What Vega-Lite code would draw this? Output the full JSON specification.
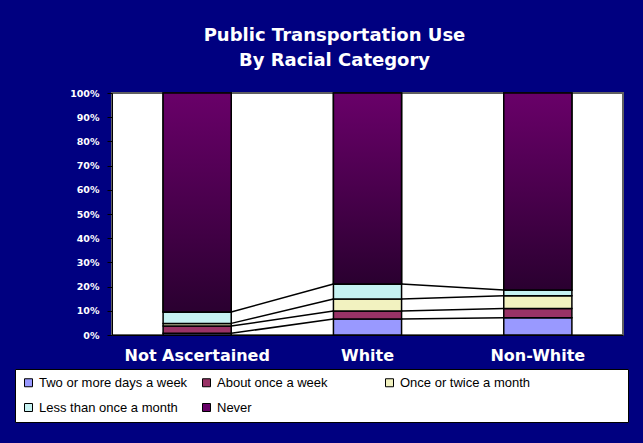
{
  "$schema": "https://vega.github.io/schema/vega-lite/v6.json",
  "width": 511,
  "height": 242,
  "autosize": "none",
  "padding": {"left": 112, "top": 93, "right": 20, "bottom": 108},
  "background": "#000080",
  "title": {
    "text": ["Public Transportation Use", "By Racial Category"],
    "color": "white",
    "font": "DejaVu Sans",
    "fontSize": 18,
    "fontWeight": "bold",
    "lineHeight": 25,
    "anchor": "middle",
    "dx": -33,
    "offset": 18
  },
  "data": {
    "values": [
      {"group": "Not Ascertained", "usage": "Two or more days a week", "pct": 0.7},
      {"group": "Not Ascertained", "usage": "About once a week", "pct": 3.0},
      {"group": "Not Ascertained", "usage": "Once or twice a month", "pct": 1.1},
      {"group": "Not Ascertained", "usage": "Less than once a month", "pct": 4.7},
      {"group": "Not Ascertained", "usage": "Never", "pct": 90.5},
      {"group": "White", "usage": "Two or more days a week", "pct": 6.6},
      {"group": "White", "usage": "About once a week", "pct": 3.3},
      {"group": "White", "usage": "Once or twice a month", "pct": 5.0},
      {"group": "White", "usage": "Less than once a month", "pct": 6.2},
      {"group": "White", "usage": "Never", "pct": 78.9},
      {"group": "Non-White", "usage": "Two or more days a week", "pct": 7.1},
      {"group": "Non-White", "usage": "About once a week", "pct": 3.9},
      {"group": "Non-White", "usage": "Once or twice a month", "pct": 5.2},
      {"group": "Non-White", "usage": "Less than once a month", "pct": 2.4},
      {"group": "Non-White", "usage": "Never", "pct": 81.4}
    ]
  },
  "transform": [
    {"calculate": "indexof(['Two or more days a week','About once a week','Once or twice a month','Less than once a month','Never'], datum.usage)", "as": "si"},
    {"calculate": "indexof(['Not Ascertained','White','Non-White'], datum.group)", "as": "gi"}
  ],
  "encoding": {
    "x": {
      "field": "group",
      "type": "nominal",
      "sort": ["Not Ascertained", "White", "Non-White"],
      "scale": {"paddingInner": 0.6, "paddingOuter": 0.3},
      "axis": {
        "title": null,
        "labelAngle": 0,
        "labelColor": "white",
        "labelFont": "DejaVu Sans",
        "labelFontSize": 16,
        "labelFontWeight": "bold",
        "labelPadding": 12,
        "ticks": false,
        "domainColor": "black"
      }
    }
  },
  "layer": [
    {
      "transform": [
        {"window": [{"op": "sum", "field": "pct", "as": "cum"}], "groupby": ["group"], "sort": [{"field": "si"}], "frame": [null, 0]},
        {"window": [{"op": "lead", "field": "cum", "as": "nextCum"}, {"op": "lead", "field": "group", "as": "nextGroup"}], "groupby": ["usage"], "sort": [{"field": "gi"}], "frame": [null, null]},
        {"filter": "datum.nextGroup != null && datum.usage != 'Never'"}
      ],
      "mark": {"type": "rule", "color": "black", "strokeWidth": 1.5},
      "encoding": {
        "x": {"field": "group", "type": "nominal", "bandPosition": 1, "sort": ["Not Ascertained", "White", "Non-White"]},
        "x2": {"field": "nextGroup", "bandPosition": 0},
        "y": {
          "field": "cum",
          "type": "quantitative",
          "scale": {"domain": [0, 100], "nice": false},
          "axis": {
            "title": null,
            "values": [0, 10, 20, 30, 40, 50, 60, 70, 80, 90, 100],
            "labelExpr": "datum.value + '%'",
            "labelOverlap": false,
            "labelColor": "white",
            "labelFont": "DejaVu Sans",
            "labelFontSize": 9.5,
            "labelFontWeight": "bold",
            "labelPadding": 8,
            "tickColor": "black",
            "tickSize": 5,
            "grid": false,
            "domainColor": "black"
          }
        },
        "y2": {"field": "nextCum"}
      }
    },
    {
      "mark": {"type": "bar", "stroke": "black", "strokeWidth": 1.5},
      "encoding": {
        "y": {
          "field": "pct",
          "type": "quantitative",
          "stack": true,
          "scale": {"domain": [0, 100], "nice": false},
          "axis": {
            "title": null,
            "values": [0, 10, 20, 30, 40, 50, 60, 70, 80, 90, 100],
            "labelExpr": "datum.value + '%'",
            "labelOverlap": false,
            "labelColor": "white",
            "labelFont": "DejaVu Sans",
            "labelFontSize": 9.5,
            "labelFontWeight": "bold",
            "labelPadding": 8,
            "tickColor": "black",
            "tickSize": 5,
            "grid": false,
            "domainColor": "black"
          }
        },
        "order": {"field": "si", "type": "quantitative"},
        "color": {
          "field": "usage",
          "type": "nominal",
          "scale": {
            "domain": ["Two or more days a week", "About once a week", "Once or twice a month", "Less than once a month", "Never"],
            "range": ["#9999ff", "#993366", "#f2f2c0", "#c6f2f2", "#660066"]
          },
          "legend": {
            "title": null,
            "orient": "none",
            "legendX": -97,
            "legendY": 276,
            "direction": "horizontal",
            "columns": 3,
            "gridAlign": "each",
            "columnPadding": 12,
            "rowPadding": 11,
            "padding": 7,
            "fillColor": "white",
            "strokeColor": "black",
            "symbolType": "square",
            "symbolSize": 64,
            "symbolStrokeColor": "black",
            "symbolStrokeWidth": 1,
            "symbolOpacity": 1,
            "labelColor": "black",
            "labelFont": "Liberation Sans",
            "labelFontSize": 13,
            "labelOffset": 4,
            "labelLimit": 400,
            "labelExpr": "datum.label == 'About once a week' ? datum.label + '\u00a0\u00a0\u00a0\u00a0\u00a0\u00a0\u00a0\u00a0\u00a0\u00a0\u00a0\u00a0\u200b' : datum.label == 'Once or twice a month' ? datum.label + '\u00a0\u00a0\u00a0\u00a0\u00a0\u00a0\u00a0\u00a0\u00a0\u00a0\u00a0\u00a0\u00a0\u00a0\u00a0\u00a0\u00a0\u00a0\u00a0\u00a0\u00a0\u00a0\u00a0\u00a0\u00a0\u200b' : datum.label"
          }
        }
      }
    },
    {
      "mark": {
        "type": "bar",
        "stroke": "black",
        "strokeWidth": 1.5,
        "fill": {
          "gradient": "linear",
          "x1": 0, "y1": 0, "x2": 0, "y2": 1,
          "stops": [
            {"offset": 0, "color": "#690069"},
            {"offset": 0.5, "color": "#4a004d"},
            {"offset": 1, "color": "#2a0030"}
          ]
        }
      },
      "encoding": {
        "y": {
          "field": "pct",
          "type": "quantitative",
          "stack": true,
          "scale": {"domain": [0, 100], "nice": false},
          "axis": {
            "title": null,
            "values": [0, 10, 20, 30, 40, 50, 60, 70, 80, 90, 100],
            "labelExpr": "datum.value + '%'",
            "labelOverlap": false,
            "labelColor": "white",
            "labelFont": "DejaVu Sans",
            "labelFontSize": 9.5,
            "labelFontWeight": "bold",
            "labelPadding": 8,
            "tickColor": "black",
            "tickSize": 5,
            "grid": false,
            "domainColor": "black"
          }
        },
        "order": {"field": "si", "type": "quantitative"},
        "opacity": {"condition": {"test": "datum.usage == 'Never'", "value": 1}, "value": 0}
      }
    }
  ],
  "config": {
    "view": {"fill": "white", "stroke": "#606060", "strokeWidth": 2}
  }
}
